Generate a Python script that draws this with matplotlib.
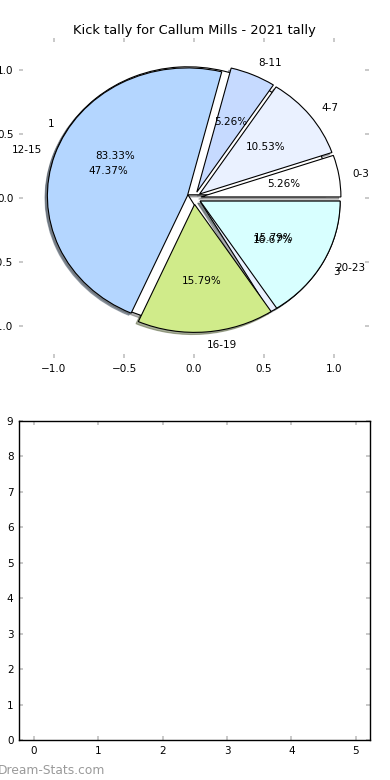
import matplotlib
matplotlib.use("Agg")
import matplotlib.pyplot as plt

# kick tally by minute bucket
labels = ["0-3", "4-7", "8-11", "12-15", "16-19", "20-23"]
kicks = [1, 2, 1, 9, 3, 3]
colours = ["#ffffff", "#eaf1ff", "#c6daff", "#b4d6ff", "#d0eb8a", "#d8ffff"]

# second overlaid pie
labels2 = ["1", "3"]
kicks2 = [5, 1]
colours2 = ["#ffffff", "#eaf1ff"]

fs = 7.5
plt.rcParams["font.size"] = fs

fig = plt.figure(figsize=(3.9, 7.8), dpi=100)
ax = fig.add_axes([19 / 390, 1 - 358 / 780, 350 / 390, 320 / 780])
ax2 = fig.add_axes([19 / 390, 1 - 740 / 780, 351 / 390, 319 / 780])

wp = dict(edgecolor="black", linewidth=0.8)
shad = dict(ox=-0.012, oy=-0.012, shade=0.6)
ax.pie(kicks2, labels=labels2, colors=colours2, autopct="%1.2f%%",
       explode=[0.05] * len(kicks2), shadow=shad, wedgeprops=wp,
       textprops=dict(fontsize=fs))
ax.pie(kicks, labels=labels, colors=colours, autopct="%1.2f%%",
       explode=[0.05] * len(kicks), shadow=shad, wedgeprops=wp,
       textprops=dict(fontsize=fs))
ax.set_aspect("auto")
ax.set_xlim(-1.25, 1.25)
ax.set_ylim(-1.25, 1.25)
ax.set_xticks([-1.0, -0.5, 0.0, 0.5, 1.0])
ax.set_yticks([-1.0, -0.5, 0.0, 0.5, 1.0])
ax.set_frame_on(False)
ax.set_title("Kick tally for Callum Mills - 2021 tally", fontsize=9.4, pad=3)

ax2.set_xlim(-0.23, 5.22)
ax2.set_ylim(0, 9)
ax2.set_xticks(range(6))
ax2.set_yticks(range(10))
for s in ax2.spines.values():
    s.set_linewidth(1.0)

for a in (ax, ax2):
    a.tick_params(direction="in", length=3, width=1.2, color="#c0c0c0",
                  top=True, right=True, labelsize=fs, pad=4)

fig.text(-0.006, 0.004, "Dream-Stats.com", color="#9a9a9a", fontsize=8.8,
         ha="left", va="bottom")

fig.savefig("out.png", dpi=100)
